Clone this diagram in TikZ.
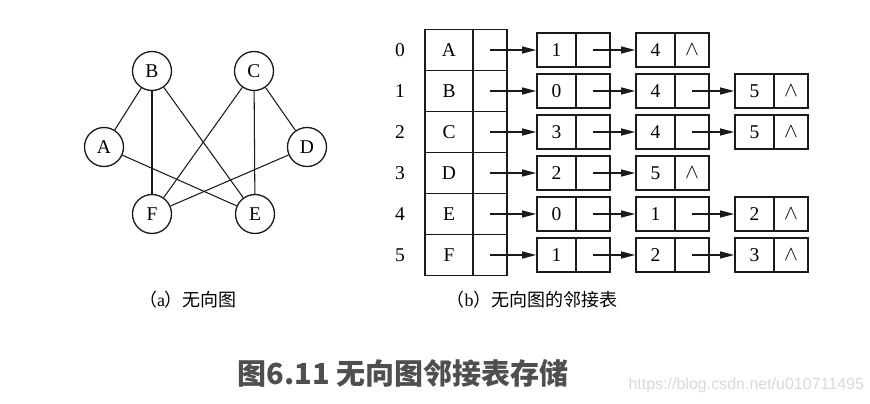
\documentclass[tikz,border=0pt]{standalone}
\usepackage{fontspec}
\setmainfont{Liberation Serif}
\newfontfamily\cjk{Noto Sans CJK SC}
\newfontfamily\wmfont{Liberation Sans}
\usetikzlibrary{arrows.meta}
\definecolor{ink}{HTML}{1A1A1A}
\definecolor{titlegray}{HTML}{4F4F4F}
\definecolor{wmgray}{HTML}{D9D9D9}
\tikzset{
  vtx/.style={circle, draw=ink, line width=1.3pt, minimum size=39pt, inner sep=0pt, font=\fontsize{19.5}{19.5}\selectfont},
  edge/.style={draw=ink, line width=1.05pt},
  datacell/.style={rectangle, draw=ink, line width=1.7pt, minimum width=39pt, minimum height=34pt, inner sep=0pt, font=\fontsize{19.5}{19.5}\selectfont},
  ptrcell/.style={rectangle, draw=ink, line width=1.7pt, minimum width=34pt, minimum height=34pt, inner sep=0pt, font=\fontsize{19.5}{19.5}\selectfont},
  vcell/.style={rectangle, draw=ink, line width=1.7pt, minimum width=48pt, minimum height=41pt, inner sep=0pt, font=\fontsize{19.5}{19.5}\selectfont},
  vptr/.style={rectangle, draw=ink, line width=1.7pt, minimum width=34pt, minimum height=41pt, inner sep=0pt},
  idx/.style={font=\fontsize{19.5}{19.5}\selectfont},
  arr/.style={draw=ink, line width=1.2pt, -{Triangle[length=14pt,width=7pt]}},
  captext/.style={font=\fontsize{18}{18}\selectfont},
}
\newcommand{\nil}{$\wedge$}
\begin{document}
\begin{tikzpicture}[x=1pt,y=-1pt]
\useasboundingbox (0,0) rectangle (870,404);
\fill[white] (0,0) rectangle (870,404);
% ---------- graph ----------
\node[vtx] (A) at (104,147) {A};
\node[vtx] (B) at (152,71) {B};
\node[vtx] (C) at (254,71) {C};
\node[vtx] (D) at (307,147) {D};
\node[vtx] (F) at (152,214) {F};
\node[vtx] (E) at (255,214) {E};
\draw[edge] (A) -- (B);
\draw[edge] (A) -- (E);
\draw[edge] (B) -- (F);
\draw[edge] (B) -- (E);
\draw[edge] (C) -- (F);
\draw[edge] (C) -- (E);
\draw[edge] (C) -- (D);
\draw[edge] (D) -- (F);
% ---------- vertex table ----------
\foreach \i/\v/\y in {0/A/50,1/B/91,2/C/132,3/D/173,4/E/214,5/F/255}{
  \node[idx] (i\i) at (400,\y) {\i};
  \node[vcell] (v\i) at (449,\y) {\v};
  \node[vptr] (p\i) at (490,\y) {};
}
% ---------- list nodes ----------
% row 0
\node[datacell] (d01) at (556.5,50) {1}; \node[ptrcell] (q01) at (593,50) {};
\node[datacell] (d02) at (655.5,50) {4}; \node[ptrcell] (q02) at (692,50) {\nil};
\draw[arr] (p0.center) -- (d01.west);
\draw[arr] (q01.center) -- (d02.west);
% row 1
\node[datacell] (d11) at (556.5,91) {0}; \node[ptrcell] (q11) at (593,91) {};
\node[datacell] (d12) at (655.5,91) {4}; \node[ptrcell] (q12) at (692,91) {};
\node[datacell] (d13) at (754.5,91) {5}; \node[ptrcell] (q13) at (791,91) {\nil};
\draw[arr] (p1.center) -- (d11.west);
\draw[arr] (q11.center) -- (d12.west);
\draw[arr] (q12.center) -- (d13.west);
% row 2
\node[datacell] (d21) at (556.5,132) {3}; \node[ptrcell] (q21) at (593,132) {};
\node[datacell] (d22) at (655.5,132) {4}; \node[ptrcell] (q22) at (692,132) {};
\node[datacell] (d23) at (754.5,132) {5}; \node[ptrcell] (q23) at (791,132) {\nil};
\draw[arr] (p2.center) -- (d21.west);
\draw[arr] (q21.center) -- (d22.west);
\draw[arr] (q22.center) -- (d23.west);
% row 3
\node[datacell] (d31) at (556.5,173) {2}; \node[ptrcell] (q31) at (593,173) {};
\node[datacell] (d32) at (655.5,173) {5}; \node[ptrcell] (q32) at (692,173) {\nil};
\draw[arr] (p3.center) -- (d31.west);
\draw[arr] (q31.center) -- (d32.west);
% row 4
\node[datacell] (d41) at (556.5,214) {0}; \node[ptrcell] (q41) at (593,214) {};
\node[datacell] (d42) at (655.5,214) {1}; \node[ptrcell] (q42) at (692,214) {};
\node[datacell] (d43) at (754.5,214) {2}; \node[ptrcell] (q43) at (791,214) {\nil};
\draw[arr] (p4.center) -- (d41.west);
\draw[arr] (q41.center) -- (d42.west);
\draw[arr] (q42.center) -- (d43.west);
% row 5
\node[datacell] (d51) at (556.5,255) {1}; \node[ptrcell] (q51) at (593,255) {};
\node[datacell] (d52) at (655.5,255) {2}; \node[ptrcell] (q52) at (692,255) {};
\node[datacell] (d53) at (754.5,255) {3}; \node[ptrcell] (q53) at (791,255) {\nil};
\draw[arr] (p5.center) -- (d51.west);
\draw[arr] (q51.center) -- (d52.west);
\draw[arr] (q52.center) -- (d53.west);
% ---------- captions ----------
\node[captext] (capa) at (188,300) {{\cjk （}a{\cjk ）无向图}};
\node[captext] (capb) at (532,300) {{\cjk （}b{\cjk ）无向图的邻接表}};
\node[text=titlegray, font=\cjk\bfseries\fontsize{29}{29}\selectfont] (title) at (403,373) {图6.11 无向图邻接表存储};
\node[text=wmgray, font=\wmfont\fontsize{16}{16}\selectfont, anchor=west] (wm) at (625,385) {https://blog.csdn.net/u010711495};
\end{tikzpicture}
\end{document}
